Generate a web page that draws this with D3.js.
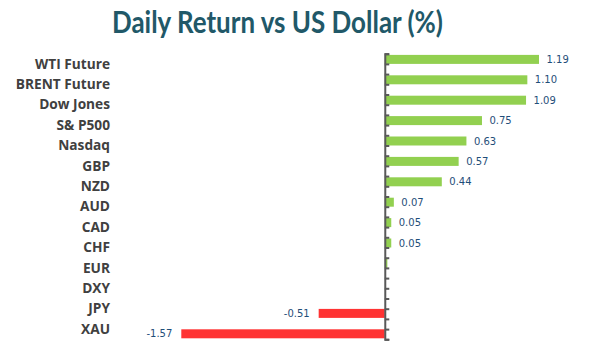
<!DOCTYPE html>
<html><head><meta charset="utf-8">
<script src="https://cdn.jsdelivr.net/npm/d3@7"></script>
<style>body{margin:0;background:#fff}svg{display:block}</style>
</head><body>
<svg id="c" width="596" height="355"></svg>
<script>
const title = "Daily Return vs US Dollar (%)";
const categories = ["WTI Future","BRENT Future","Dow Jones","S& P500","Nasdaq","GBP","NZD","AUD","CAD","CHF","EUR","DXY","JPY","XAU"];
const gainValues = [1.19,1.10,1.09,0.75,0.63,0.57,0.44,0.07,0.05,0.05,0.02,0,0,0];
const lossValues = [0,0,0,0,0,0,0,0,0,0,0,0,-0.51,-1.57];
const gainLabels = ["1.19","1.10","1.09","0.75","0.63","0.57","0.44","0.07","0.05","0.05","","","",""];
const lossLabels = ["","","","","","","","","","","","","-0.51","-1.57"];

const svg = d3.select("#c");
const x = d3.scaleLinear().domain([-1.57,1.19]).range([181.3,539]);
const y = d3.scaleBand().domain(categories).range([53.7,339.3]).padding(0);
const bw = y.bandwidth();
const x0 = x(0);

svg.append("text").attr("x",277.5).attr("y",33).attr("text-anchor","middle")
  .attr("font-family","Lato, 'Open Sans', sans-serif").attr("font-weight","bold")
  .attr("font-size",30).attr("fill","#215868")
  .attr("textLength",331).attr("lengthAdjust","spacingAndGlyphs").text(title);

const gTicks = d3.scaleLinear().domain([0,categories.length*2]).range([53.7,339.3]);
const ax = svg.append("g").attr("transform",`translate(${x0},0)`)
  .call(d3.axisRight(gTicks).tickValues(d3.range(0,categories.length*2+1)).tickSize(4.5).tickFormat(""));
ax.selectAll("path,line").attr("stroke","#595959").attr("stroke-width",2);

svg.append("g").selectAll("rect").data(categories).join("rect")
  .attr("x",(d,i)=>x(Math.min(0,gainValues[i])))
  .attr("y",d=>y(d)+1.2).attr("height",bw/2-1.2)
  .attr("width",(d,i)=>Math.abs(x(gainValues[i])-x0))
  .attr("fill","#92D050");
svg.append("g").selectAll("rect").data(categories).join("rect")
  .attr("x",(d,i)=>x(lossValues[i]))
  .attr("y",d=>y(d)+bw/2+0.2).attr("height",bw/2-1.2)
  .attr("width",(d,i)=>Math.abs(x(lossValues[i])-x0))
  .attr("fill","#FF3333");

ax.raise();

const lf = "'DejaVu Sans', Verdana, sans-serif";
svg.append("g").selectAll("text").data(categories).join("text")
  .attr("x",(d,i)=>x(gainValues[i])+7.5).attr("y",d=>y(d)+1.2+(bw/2-1.2)/2)
  .attr("dy","0.35em").attr("font-family",lf).attr("font-size",10).attr("fill","#1F4E79")
  .text((d,i)=>gainLabels[i]);
svg.append("g").selectAll("text").data(categories).join("text")
  .attr("x",(d,i)=>x(lossValues[i])-9).attr("y",d=>y(d)+bw/2+0.2+(bw/2-1.2)/2)
  .attr("text-anchor","end")
  .attr("dy","0.35em").attr("font-family",lf).attr("font-size",10).attr("fill","#1F4E79")
  .text((d,i)=>lossLabels[i]);

svg.append("g").selectAll("text").data(categories).join("text")
  .attr("x",110).attr("y",d=>y(d)+bw/2).attr("dy","0.35em").attr("text-anchor","end")
  .attr("font-family","'Open Sans', sans-serif").attr("font-weight","bold")
  .attr("font-size",13.7).attr("fill","#404040").text(d=>d);
</script>
</body></html>
